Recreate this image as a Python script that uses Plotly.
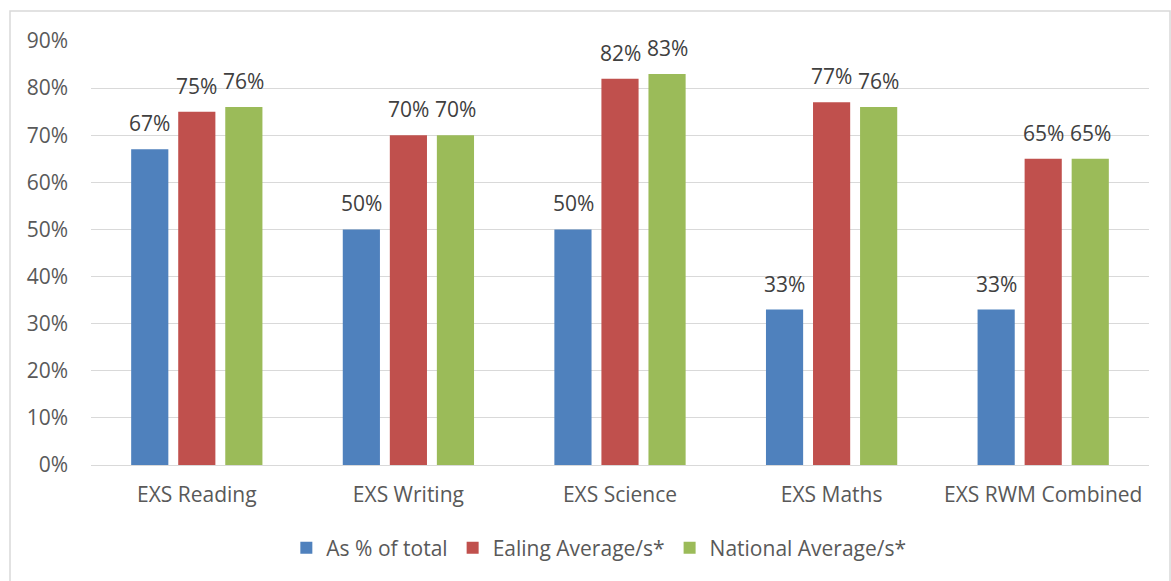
import plotly.graph_objects as go

categories = ["EXS Reading", "EXS Writing", "EXS Science", "EXS Maths", "EXS RWM Combined"]
pct_total = [67, 50, 50, 33, 33]
ealing_avg = [75, 70, 82, 77, 65]
national_avg = [76, 70, 83, 76, 65]
series_names = ["As % of total", "Ealing Average/s*", "National Average/s*"]
colors = ["#4F81BD", "#C0504D", "#9BBB59"]

W, H = 1171, 581
ml, mr, mt, mb = 91, 22, 41, 116
font_family = "Open Sans, Liberation Sans, sans-serif"
txt_col = "#595959"
fs = 21

fig = go.Figure()
all_vals = [pct_total, ealing_avg, national_avg]
for name, vals, col in zip(series_names, all_vals, colors):
    fig.add_trace(go.Bar(
        x=categories, y=[v / 100 for v in vals], name=name,
        marker=dict(color=col, line=dict(width=0)),
    ))

slot = 47
for i, vals in enumerate(all_vals):
    for cat, v in zip(categories, vals):
        fig.add_annotation(x=cat, y=v / 100, text=f"{v}%", showarrow=False,
                           xshift=(i - 1) * slot, yanchor="bottom", yshift=10,
                           font=dict(size=fs, color="#404040", family=font_family))

pw = W - ml - mr
ph = H - mt - mb
fig.update_layout(
    width=W, height=H,
    margin=dict(l=ml, r=mr, t=mt, b=mb),
    paper_bgcolor="white", plot_bgcolor="white",
    barmode="group", bargap=0.333, bargroupgap=0.21,
    font=dict(family=font_family, color=txt_col, size=fs),
    legend=dict(orientation="h", x=0.48, xanchor="center", y=(H - mb - 548) / ph,
                yanchor="middle", font=dict(size=fs, color=txt_col), itemwidth=30,
                traceorder="normal"),
    showlegend=True,
)
fig.update_yaxes(range=[0, 0.9], dtick=0.1, tickformat=".0%", showgrid=True,
                 gridcolor="#D9D9D9", gridwidth=1.3, zeroline=True, zerolinecolor="#D9D9D9",
                 zerolinewidth=1.3, showline=False, ticks="", ticklabelstandoff=22,
                 tickfont=dict(size=fs, color=txt_col))
fig.update_xaxes(showline=False, ticks="", tickfont=dict(size=fs, color=txt_col),
                 ticklabelstandoff=15)

fig.add_shape(type="rect", xref="paper", yref="paper",
              x0=(10 - ml) / pw, x1=(1170 - ml) / pw,
              y0=(H - mb - 590) / ph, y1=(H - mb - 11) / ph,
              line=dict(color="#D9D9D9", width=1.5), fillcolor="rgba(0,0,0,0)", layer="below")

fig.write_html("out.html", config={"displayModeBar": False},
               post_script="document.body.style.margin='0';document.body.style.overflow='hidden';")
